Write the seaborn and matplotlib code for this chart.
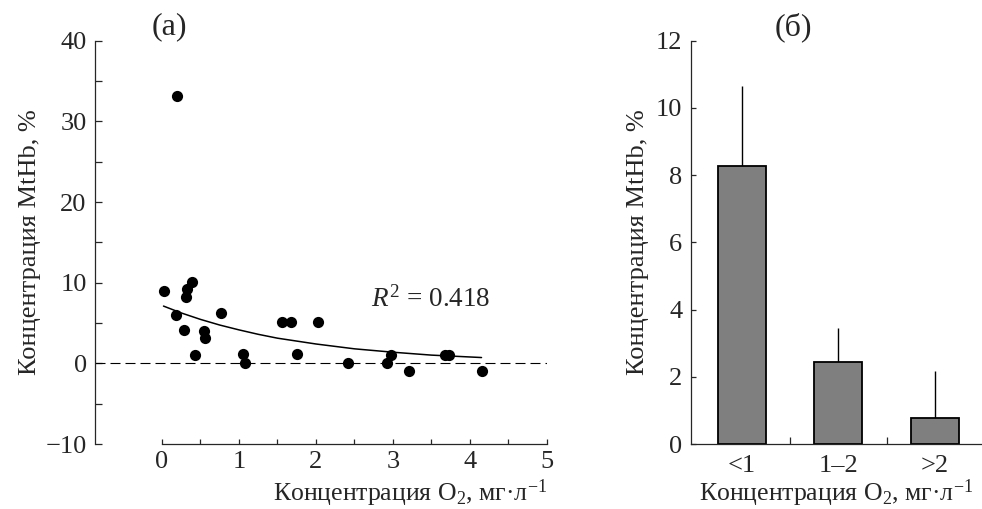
import numpy as np
import pandas as pd
import seaborn as sns
import matplotlib.pyplot as plt
from matplotlib.ticker import MultipleLocator, FixedLocator

# ---------------------------------------------------------
# Data
# ---------------------------------------------------------
# (a) scatter: O2 concentration vs MtHb concentration
o2_conc = [0.03, 0.20, 0.18, 0.29, 0.32, 0.31, 0.39, 0.43, 0.55, 0.56, 0.77, 1.05,
           1.08, 1.56, 1.68, 1.75, 2.03, 2.42, 2.92, 2.97, 3.21, 3.68, 3.73, 4.16]
mthb_conc = [9.0, 33.1, 6.0, 4.1, 9.2, 8.2, 10.1, 1.0, 4.0, 3.2, 6.2, 1.2,
             0.0, 5.1, 5.1, 1.1, 5.1, 0.0, 0.0, 1.05, -0.95, 1.05, 1.05, -0.95]

# fitted trend curve, read at several points
fit_x = [0.02, 0.25, 0.5, 0.75, 1.0, 1.25, 1.5, 2.0, 2.5, 3.0, 3.5, 4.15]
fit_y = [7.1, 6.25, 5.45, 4.75, 4.15, 3.6, 3.12, 2.4, 1.8, 1.38, 1.02, 0.72]

# (б) bars: grouped by O2 concentration
groups = ["<1", "1–2", ">2"]
group_means = [8.28, 2.43, 0.76]
group_err = [2.37, 1.01, 1.41]

r2_text = "$\\mathit{R}^{2}$ = 0.418"
ylabel = "Концентрация MtHb, %"
xlabel = "Концентрация O$_2$, мг·л$^{-1}$"

# ---------------------------------------------------------
# Style
# ---------------------------------------------------------
sns.set_style("ticks")
plt.rcParams["font.family"] = ["Liberation Serif", "DejaVu Serif"]
plt.rcParams["mathtext.fontset"] = "custom"
plt.rcParams["mathtext.rm"] = "Liberation Serif"
plt.rcParams["mathtext.it"] = "Liberation Serif:italic"
plt.rcParams["mathtext.default"] = "regular"
plt.rcParams["axes.linewidth"] = 0.9
plt.rcParams["xtick.direction"] = "in"
plt.rcParams["ytick.direction"] = "in"

fig = plt.figure(figsize=(9.82, 5.09), dpi=100)
ax1 = fig.add_axes([0.0967, 0.1277, 0.4603, 0.7923])
ax2 = fig.add_axes([0.7034, 0.1277, 0.2966, 0.7923])

# ---------------------------------------------------------
# (a) scatter + trend
# ---------------------------------------------------------
df = pd.DataFrame({"o2": o2_conc, "mthb": mthb_conc})
ax1.axhline(0, color="black", lw=0.8, linestyle=(0, (9, 4.5)), zorder=1)
sns.scatterplot(data=df, x="o2", y="mthb", ax=ax1, color="black", s=65,
                linewidth=0, zorder=3)
fit_df = pd.DataFrame({"x": fit_x, "y": fit_y})
sns.lineplot(data=fit_df, x="x", y="y", ax=ax1, color="black", lw=1.1, zorder=2)

ax1.set_xlim(-0.87, 5)
ax1.set_ylim(-10, 40)
ax1.spines["top"].set_visible(False)
ax1.spines["right"].set_visible(False)
ax1.spines["bottom"].set_bounds(0, 5)
ax1.xaxis.set_major_locator(FixedLocator([0, 1, 2, 3, 4, 5]))
ax1.xaxis.set_minor_locator(FixedLocator([0.5, 1.5, 2.5, 3.5, 4.5]))
ax1.yaxis.set_major_locator(MultipleLocator(10))
ax1.yaxis.set_minor_locator(MultipleLocator(5))
ax1.tick_params(axis="x", which="both", length=3.5, width=0.9, labelsize=19, pad=5)
ax1.tick_params(axis="y", which="both", length=5, width=0.9, labelsize=19, pad=6)
ax1.set_xlabel(xlabel, fontsize=18.5, ha="right")
ax1.xaxis.set_label_coords(1.0, -0.083)
ax1.set_ylabel(ylabel, fontsize=19)
ax1.yaxis.set_label_coords(-0.12, 0.5)
ax1.text(2.72, 7.97, r2_text, fontsize=19.5, ha="left", va="center")
fig.text(169 / 982, 1 - 27 / 509, "(a)", fontsize=23, ha="center", va="center")

# ---------------------------------------------------------
# (б) bar chart with upward error bars
# ---------------------------------------------------------
bar_df = pd.DataFrame({"group": groups, "mean": group_means})
sns.barplot(data=bar_df, x="group", y="mean", ax=ax2, color="#7f7f7f",
            saturation=1, edgecolor="black", linewidth=1.3, width=0.5,
            errorbar=None, zorder=2)
ax2.errorbar(x=range(len(groups)), y=group_means,
             yerr=[[0] * len(groups), group_err], fmt="none",
             ecolor="black", elinewidth=1.0, capsize=0, zorder=1)

ax2.set_xlim(-0.532, 2.49)
ax2.set_ylim(0, 12)
ax2.spines["top"].set_visible(False)
ax2.spines["right"].set_visible(False)
ax2.yaxis.set_major_locator(MultipleLocator(2))
ax2.xaxis.set_minor_locator(FixedLocator([0.5, 1.5]))
ax2.tick_params(axis="x", which="major", length=0, labelsize=19, pad=8)
ax2.tick_params(axis="x", which="minor", length=5, width=0.9)
ax2.tick_params(axis="y", which="both", length=3.5, width=0.9, labelsize=19, pad=6)
ax2.set_xlabel(xlabel, fontsize=18.5)
ax2.xaxis.set_label_coords(0.5, -0.083)
ax2.set_ylabel(ylabel, fontsize=19)
ax2.yaxis.set_label_coords(-0.145, 0.5)
fig.text(793 / 982, 1 - 27 / 509, "(б)", fontsize=23, ha="center", va="center")

fig.savefig("out.png", dpi=100)
